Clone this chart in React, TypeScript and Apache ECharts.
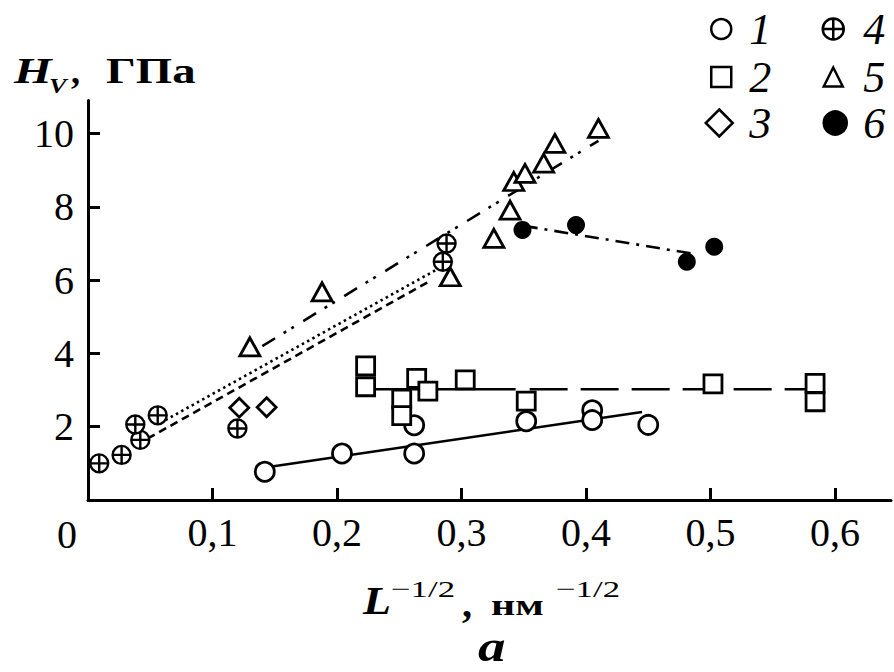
import React, { useEffect, useRef } from 'react';
import * as echarts from 'echarts';

// ---- data ----
const xTicks = [0.1, 0.2, 0.3, 0.4, 0.5, 0.6];
const yTicks = [2, 4, 6, 8, 10];
const seriesNames = ['1', '2', '3', '4', '5', '6'];

const s1: number[][] = [[0.142, 0.77], [0.204, 1.27], [0.262, 1.27], [0.262, 2.04], [0.352, 2.15], [0.405, 2.45], [0.405, 2.18], [0.45, 2.05]];
const s2: number[][] = [[0.223, 3.66], [0.223, 3.09], [0.252, 2.75], [0.252, 2.3], [0.264, 3.32], [0.273, 2.97], [0.303, 3.28], [0.352, 2.7], [0.502, 3.17], [0.584, 3.18], [0.584, 2.68]];
const s3: number[][] = [[0.1215, 2.52], [0.1435, 2.53]];
const s4: number[][] = [[0.009, 1.0], [0.027, 1.23], [0.042, 1.64], [0.038, 2.06], [0.056, 2.31], [0.12, 1.95], [0.288, 7.0], [0.285, 6.5]];
const s5: number[][] = [[0.13, 4.18], [0.188, 5.68], [0.291, 6.09], [0.326, 7.14], [0.339, 7.91], [0.342, 8.69], [0.351, 8.91], [0.366, 9.19], [0.375, 9.73], [0.41, 10.14]];
const s6: number[][] = [[0.349, 7.37], [0.392, 7.5], [0.481, 6.5], [0.503, 6.91]];

const lineSolid: number[][] = [[0.145, 0.9], [0.445, 2.4]];
const lineLongDash: number[][] = [[0.223, 3.02], [0.584, 3.02]];
const lineDotted: number[][] = [[0.058, 2.1], [0.285, 6.38]];
const lineShortDash: number[][] = [[0.048, 1.68], [0.275, 5.98]];
const lineDashDotDot: number[][] = [[0.14, 4.2], [0.41, 9.8]];
const lineDashDot: number[][] = [[0.35, 7.48], [0.484, 6.73]];

const FONT = 'Liberation Serif';
const PLUS_CIRCLE = 'path://M10 0A10 10 0 1 1 10 20A10 10 0 1 1 10 0ZM10 0L10 20M0 10L20 10';

export default function App() {
  const ref = useRef<HTMLDivElement>(null);

  useEffect(() => {
    document.body.style.margin = '0';
    if (!ref.current) return;
    const chart = echarts.init(ref.current, null, { renderer: 'svg' });

    const hollow = { color: '#fff', borderColor: '#000', borderWidth: 2.8, opacity: 1 };

    const fitLine = (data: number[][], type: any) => ({
      type: 'line',
      data,
      symbol: 'none',
      showSymbol: false,
      silent: true,
      z: 2,
      lineStyle: { color: '#000', width: 2.6, type, cap: 'butt' },
    });

    const scatter = (name: string, data: number[][], symbol: string, size: any, itemStyle: any) => ({
      type: 'scatter',
      name,
      data,
      symbol,
      symbolSize: size,
      itemStyle,
      z: 5,
      clip: false,
    });

    const legendItems = [
      { name: seriesNames[0], cx: 720, cy: 29, w: 20, h: 20, col: 0 },
      { name: seriesNames[1], cx: 720, cy: 77, w: 20, h: 20, col: 0 },
      { name: seriesNames[2], cx: 718, cy: 123, w: 27, h: 27, col: 0 },
      { name: seriesNames[3], cx: 832, cy: 29, w: 21, h: 21, col: 1 },
      { name: seriesNames[4], cx: 832, cy: 77, w: 19, h: 19, col: 1 },
      { name: seriesNames[5], cx: 834, cy: 123, w: 23, h: 23, col: 1 },
    ];

    const legends = legendItems.map((it) => {
      const textX = it.col === 0 ? 748 : 862;
      const pad = textX - (it.cx + it.w / 2 + 5);
      return {
        data: [it.name],
        left: it.cx - it.w / 2,
        top: it.cy - 22,
        orient: 'horizontal',
        itemWidth: it.w,
        itemHeight: it.h,
        padding: 0,
        itemGap: 0,
        selectedMode: false,
        itemStyle: { borderWidth: 2.5 },
        textStyle: { fontFamily: FONT, fontStyle: 'italic', fontSize: 44, color: '#000', padding: [0, 0, 0, pad] },
      };
    });

    const txt = (text: string, x: number, y: number, size: number, opts: any = {}) => ({
      type: 'text',
      x,
      y,
      scaleX: opts.sx || 1,
      silent: true,
      style: {
        text,
        fill: '#000',
        fontFamily: FONT,
        fontSize: size,
        fontWeight: opts.bold ? 'bold' : 'normal',
        fontStyle: opts.italic ? 'italic' : 'normal',
        align: opts.align || 'left',
        verticalAlign: 'middle',
      },
    });

    chart.setOption({
      animation: false,
      backgroundColor: '#fff',
      grid: { left: 88, top: 100.5, width: 803, height: 399.5, containLabel: false },
      xAxis: {
        type: 'value',
        min: 0,
        max: 0.645,
        axisLine: { show: true, onZero: false, lineStyle: { color: '#000', width: 3 } },
        axisTick: { show: true, inside: true, length: 12, lineStyle: { color: '#000', width: 3 }, customValues: xTicks },
        axisLabel: {
          customValues: xTicks,
          formatter: (v: number) => String(v).replace('.', ','),
          fontFamily: FONT,
          fontSize: 40,
          color: '#000',
          margin: 12,
        },
        splitLine: { show: false },
      },
      yAxis: {
        type: 'value',
        min: 0,
        max: 10.9,
        axisLine: { show: true, onZero: false, lineStyle: { color: '#000', width: 3 } },
        axisTick: { show: true, inside: true, length: 12, lineStyle: { color: '#000', width: 3 }, customValues: yTicks },
        axisLabel: {
          customValues: yTicks,
          fontFamily: FONT,
          fontSize: 40,
          color: '#000',
          margin: 14,
          padding: [6, 0, 0, 0],
        },
        splitLine: { show: false },
      },
      legend: legends,
      series: [
        fitLine(lineSolid, 'solid'),
        fitLine(lineLongDash, [150, 14, 38, 13, 38, 13, 38, 13, 38, 13, 38, 13, 38]),
        fitLine(lineDotted, [2.5, 3.5]),
        fitLine(lineShortDash, [8, 5]),
        fitLine(lineDashDotDot, [15, 10, 3, 6, 3, 11]),
        fitLine(lineDashDot, [14, 7, 3, 7]),
        scatter(seriesNames[0], s1, 'circle', 19, hollow),
        scatter(seriesNames[1], s2, 'rect', 18, hollow),
        scatter(seriesNames[2], s3, 'diamond', 19, hollow),
        scatter(seriesNames[3], s4, PLUS_CIRCLE, 18, { ...hollow, borderWidth: 2.4 }),
        scatter(seriesNames[4], s5, 'triangle', [20, 18], hollow),
        scatter(seriesNames[5], s6, 'circle', 18, { color: '#000', borderColor: '#000', borderWidth: 0, opacity: 1 }),
      ],
      graphic: [
        txt('H', 14, 71, 36, { italic: true, bold: true, sx: 1.35 }),
        txt('V', 49, 85, 22, { italic: true, bold: true, sx: 1.2 }),
        txt(',', 71, 71, 36, { bold: true }),
        txt('ГПа', 106, 71, 36, { bold: true, sx: 1.3 }),
        txt('0', 67, 534, 40, { align: 'center' }),
        txt('L', 363, 601, 40, { italic: true, bold: true, sx: 1.15 }),
        txt('−1/2', 391, 589, 24, { bold: false, sx: 1.45 }),
        txt(',', 462, 603, 40, { bold: true }),
        txt('нм', 491, 605, 30, { bold: true, sx: 1.4 }),
        txt('−1/2', 556, 589, 24, { bold: false, sx: 1.45 }),
        txt('а', 478, 646, 44, { italic: true, bold: true, sx: 1.25 }),
      ],
    });

    return () => chart.dispose();
  }, []);

  return <div ref={ref} style={{ position: 'fixed', left: 0, top: 0, width: 894, height: 672 }} />;
}
